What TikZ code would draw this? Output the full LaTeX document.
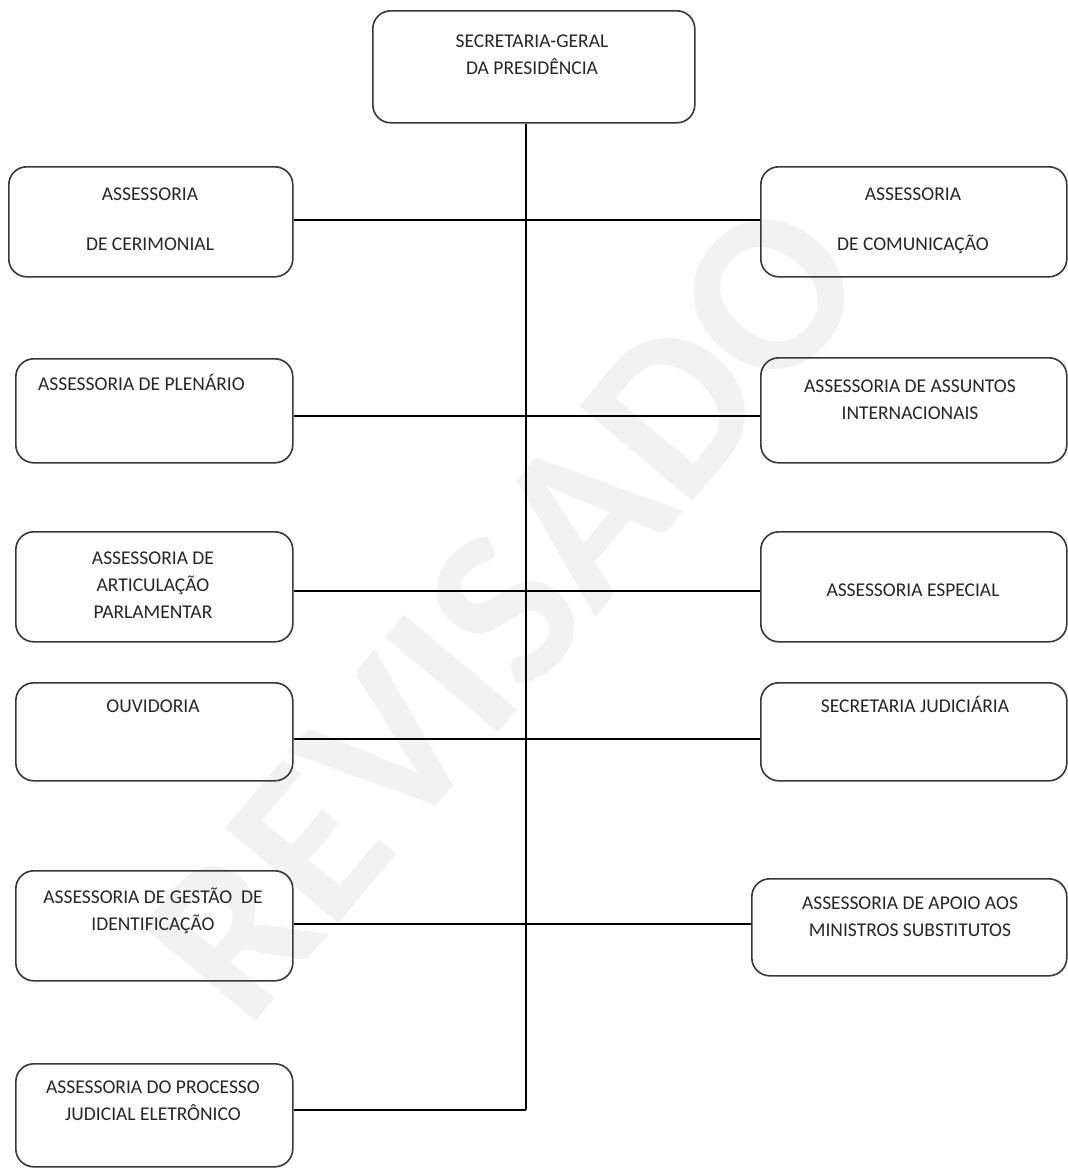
\documentclass[tikz,border=0pt]{standalone}
\usepackage{fontspec}
\setmainfont{Carlito}
\newcommand\boxfont{\fontsize{19.5}{24}\selectfont}
\newcommand\wmfont{\fontsize{228}{228}\selectfont\bfseries}
\begin{document}
\begin{tikzpicture}[x=1pt,y=-1pt,
  box/.style={draw=black!78, line width=1.6pt, rounded corners=18pt, anchor=north west, inner sep=0pt},
  lbl/.style={font=\boxfont, anchor=base, inner sep=0pt, text=black!85},
  con/.style={draw=black, line width=1.3pt}]
\useasboundingbox[fill=white] (0,0) rectangle (1068,1170);
% watermark
\node[rotate=50, font=\wmfont, text=black!5, inner sep=0pt] (wm) at (505,610) {REVISADO};
% boxes
\node[box, minimum width=322pt, minimum height=112pt] (top) at (372,10) {};
\node[box, minimum width=284pt, minimum height=110pt] (cer) at (8,166) {};
\node[box, minimum width=277pt, minimum height=104pt] (ple) at (15,358) {};
\node[box, minimum width=277pt, minimum height=110pt] (art) at (15,531) {};
\node[box, minimum width=277pt, minimum height=98pt] (ouv) at (15,682) {};
\node[box, minimum width=277pt, minimum height=110pt] (ges) at (15,870) {};
\node[box, minimum width=277pt, minimum height=103pt] (pje) at (15,1063) {};
\node[box, minimum width=306pt, minimum height=110pt] (com) at (760,166) {};
\node[box, minimum width=306pt, minimum height=105pt] (ass) at (760,357) {};
\node[box, minimum width=306pt, minimum height=110pt] (esp) at (760,531) {};
\node[box, minimum width=306pt, minimum height=98pt] (jud) at (760,682) {};
\node[box, minimum width=315pt, minimum height=97pt] (apo) at (751,878) {};
% labels
\node[lbl] (top1) at (532,47) {SECRETARIA-GERAL};
\node[lbl] (top2) at (532,74) {DA PRESIDÊNCIA};
\node[lbl] (cer1) at (150,200) {ASSESSORIA};
\node[lbl] (cer2) at (150,250) {DE CERIMONIAL};
\node[lbl] (com1) at (913,200) {ASSESSORIA};
\node[lbl] (com2) at (913,250) {DE COMUNICAÇÃO};
\node[lbl, anchor=base west] (ple1) at (38,390) {ASSESSORIA DE PLENÁRIO};
\node[lbl] (ass1) at (910,392) {ASSESSORIA DE ASSUNTOS};
\node[lbl] (ass2) at (910,419) {INTERNACIONAIS};
\node[lbl] (art1) at (153,564) {ASSESSORIA DE};
\node[lbl] (art2) at (153,591) {ARTICULAÇÃO};
\node[lbl] (art3) at (153,618) {PARLAMENTAR};
\node[lbl] (esp1) at (913,596) {ASSESSORIA ESPECIAL};
\node[lbl] (ouv1) at (153,712) {OUVIDORIA};
\node[lbl] (jud1) at (915,712) {SECRETARIA JUDICIÁRIA};
\node[lbl] (ges1) at (153,903) {ASSESSORIA DE GESTÃO\ \ DE};
\node[lbl] (ges2) at (153,930) {IDENTIFICAÇÃO};
\node[lbl] (apo1) at (910,909) {ASSESSORIA DE APOIO AOS};
\node[lbl] (apo2) at (910,936) {MINISTROS SUBSTITUTOS};
\node[lbl] (pje1) at (153,1093) {ASSESSORIA DO PROCESSO};
\node[lbl] (pje2) at (153,1120) {JUDICIAL ELETRÔNICO};
% trunk coordinates
\coordinate (t1) at (526,220);
\coordinate (t2) at (526,416);
\coordinate (t3) at (526,591);
\coordinate (t4) at (526,739);
\coordinate (t5) at (526,924);
\coordinate (t6) at (526,1110);
% connectors
\draw[con] (top.south -| t1) -- (t6);
\draw[con] (cer.east |- t1) -- (com.west |- t1);
\draw[con] (ple.east |- t2) -- (ass.west |- t2);
\draw[con] (art.east |- t3) -- (esp.west |- t3);
\draw[con] (ouv.east |- t4) -- (jud.west |- t4);
\draw[con] (ges.east |- t5) -- (apo.west |- t5);
\draw[con] (pje.east |- t6) -- (t6);
\end{tikzpicture}
\end{document}
